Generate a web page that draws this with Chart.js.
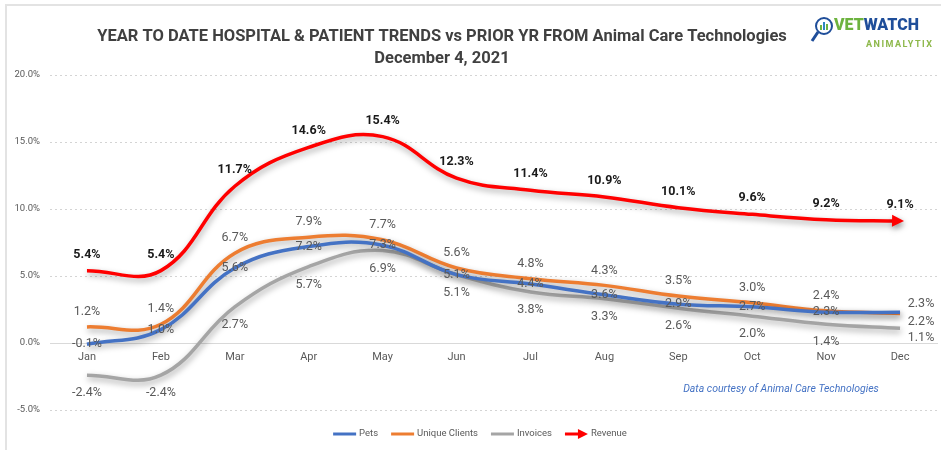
<!DOCTYPE html>
<html lang="en">
<head>
<meta charset="UTF-8">
<title>Year to date hospital & patient trends</title>
<script src="https://cdn.jsdelivr.net/npm/chart.js"></script>
<style>
  body { margin: 0; background: #fff; }
  #wrap { width: 941px; height: 450px; }
</style>
</head>
<body>
<div id="wrap"><canvas id="grafico"></canvas></div>

<script>
// months on the x axis
const meses = ["Jan", "Feb", "Mar", "Apr", "May", "Jun", "Jul", "Aug", "Sep", "Oct", "Nov", "Dec"];

// YTD change vs prior year, in %
const pets          = [-0.1, 1.0, 5.6, 7.2, 7.3, 5.1, 4.4, 3.6, 2.9, 2.7, 2.3, 2.3];
const uniqueClients = [1.2, 1.4, 6.7, 7.9, 7.7, 5.6, 4.8, 4.3, 3.5, 3.0, 2.4, 2.2];
const invoices      = [-2.4, -2.4, 2.7, 5.7, 6.9, 5.1, 3.8, 3.3, 2.6, 2.0, 1.4, 1.1];
const revenue       = [5.4, 5.4, 11.7, 14.6, 15.4, 12.3, 11.4, 10.9, 10.1, 9.6, 9.2, 9.1];

// y axis ticks
const yTicks = [-5, 0, 5, 10, 15, 20];

const cinza = '#595959';

// label style per dataset: vertical offset, weight, colour
const estiloRotulo = [
  { dy: 0,   bold: false, cor: cinza },      // Pets sits on the line
  { dy: -15, bold: false, cor: cinza },      // Unique Clients above
  { dy: 18,  bold: false, cor: cinza },      // Invoices below
  { dy: -16, bold: true,  cor: '#1a1a1a' }   // Revenue above, bold
];
// the December labels go to the right of the line end
const rotuloDez = [
  { dx: 21, dy: -8 },
  { dx: 21, dy: 8 },
  { dx: 21, dy: 10 },
  { dx: 0, dy: -16 }
];

// soft shadow under every line, like the Excel original, and arrow at the end of Revenue
const sombra = {
  id: 'sombra',
  beforeDatasetDraw(chart) {
    const ctx = chart.ctx;
    ctx.save();
    ctx.shadowColor = 'rgba(0,0,0,0.35)';
    ctx.shadowBlur = 6;
    ctx.shadowOffsetX = 1;
    ctx.shadowOffsetY = 3;
  },
  afterDatasetDraw(chart, args) {
    const ctx = chart.ctx;
    const ds = chart.data.datasets[args.index];
    if (ds.label === 'Revenue') {
      const pts = args.meta.data;
      const p = pts[pts.length - 1];
      const ang = Math.atan2(p.y - p.cp1y, p.x - p.cp1x);
      ctx.translate(p.x + 4, p.y);
      ctx.rotate(ang);
      ctx.fillStyle = ds.borderColor;
      ctx.beginPath();
      ctx.moveTo(0, 0);
      ctx.lineTo(-12, -6);
      ctx.lineTo(-12, 6);
      ctx.closePath();
      ctx.fill();
    }
    ctx.restore();
  }
};

// value labels
const rotulos = {
  id: 'rotulos',
  afterDatasetsDraw(chart) {
    const ctx = chart.ctx;
    ctx.save();
    ctx.textAlign = 'center';
    ctx.textBaseline = 'middle';
    chart.data.datasets.forEach((ds, i) => {
      const meta = chart.getDatasetMeta(i);
      const st = estiloRotulo[i];
      ctx.font = (st.bold ? 'bold ' : '') + '12.5px Roboto';
      ctx.fillStyle = st.cor;
      meta.data.forEach((pt, j) => {
        let dx = 0, dy = st.dy;
        if (j === meta.data.length - 1) { dx = rotuloDez[i].dx; dy = rotuloDez[i].dy; }
        ctx.fillText(ds.data[j].toFixed(1) + '%', pt.x + dx, pt.y + dy);
      });
    });
    ctx.restore();
  }
};

// title, logo, frame, note and legend
const enfeites = {
  id: 'enfeites',
  afterDraw(chart) {
    const ctx = chart.ctx;
    ctx.save();

    // light frame
    ctx.strokeStyle = '#e3e3e3';
    ctx.lineWidth = 2;
    ctx.beginPath();
    ctx.moveTo(6, 450);
    ctx.lineTo(6, 5);
    ctx.lineTo(941, 5);
    ctx.stroke();

    // title
    ctx.fillStyle = '#404040';
    ctx.textAlign = 'center';
    ctx.textBaseline = 'middle';
    ctx.font = 'bold 16.5px Roboto';
    ctx.fillText('YEAR TO DATE HOSPITAL & PATIENT TRENDS vs PRIOR YR FROM Animal Care Technologies', 442, 37, 691);
    ctx.fillText('December 4, 2021', 442, 59, 142);

    // logo: magnifier + VETWATCH / ANIMALYTIX
    ctx.strokeStyle = '#1f4e9a';
    ctx.lineWidth = 2;
    ctx.beginPath();
    ctx.arc(824, 26, 8, 0, Math.PI * 2);
    ctx.stroke();
    ctx.lineWidth = 3;
    ctx.beginPath();
    ctx.moveTo(818, 32);
    ctx.lineTo(812, 41);
    ctx.stroke();
    ctx.fillStyle = '#6db33f';
    ctx.fillRect(820, 25, 2, 5);
    ctx.fillStyle = '#2e86c1';
    ctx.fillRect(823, 22, 2, 8);
    ctx.fillStyle = '#6db33f';
    ctx.fillRect(826, 24, 2, 6);

    ctx.textAlign = 'left';
    ctx.font = '900 16px Roboto';
    ctx.fillStyle = '#6db33f';
    ctx.fillText('VET', 834, 26);
    const wVet = ctx.measureText('VET').width;
    ctx.fillStyle = '#1f4e9a';
    ctx.fillText('WATCH', 834 + wVet, 26, 101 - wVet);
    ctx.font = 'bold 9px Roboto';
    ctx.fillStyle = '#8db84a';
    ctx.letterSpacing = '1.5px';
    ctx.fillText('ANIMALYTIX', 866, 45, 72);
    ctx.letterSpacing = '0px';

    // note
    ctx.textAlign = 'center';
    ctx.font = 'italic 10.5px Roboto';
    ctx.fillStyle = '#4472c4';
    ctx.fillText('Data courtesy of Animal Care Technologies', 781, 389, 204);

    // legend
    ctx.font = '9.5px Roboto';
    const itens = chart.data.datasets.map(ds => ({ txt: ds.label, cor: ds.borderColor, seta: ds.label === 'Revenue' }));
    let total = 0;
    itens.forEach(it => { it.w = 23 + 3 + ctx.measureText(it.txt).width; total += it.w; });
    total += 13 * (itens.length - 1);
    let x = 480 - total / 2;
    const y = 434;
    ctx.textAlign = 'left';
    itens.forEach(it => {
      ctx.strokeStyle = it.cor;
      ctx.lineWidth = 3;
      ctx.beginPath();
      ctx.moveTo(x, y);
      ctx.lineTo(it.seta ? x + 15 : x + 23, y);
      ctx.stroke();
      if (it.seta) {
        ctx.fillStyle = it.cor;
        ctx.beginPath();
        ctx.moveTo(x + 23, y);
        ctx.lineTo(x + 13, y - 5);
        ctx.lineTo(x + 13, y + 5);
        ctx.closePath();
        ctx.fill();
      }
      ctx.fillStyle = cinza;
      ctx.fillText(it.txt, x + 26, y);
      x += it.w + 13;
    });

    ctx.restore();
  }
};

const ctx = document.getElementById('grafico');

const serie = (label, data, cor) => ({
  label: label,
  data: data,
  borderColor: cor,
  backgroundColor: cor,
  borderWidth: 3.5,
  pointRadius: 0,
  pointHoverRadius: 0,
  tension: 0.4,
  fill: false
});

const grafico = new Chart(ctx, {
  type: 'line',
  data: {
    labels: meses,
    datasets: [
      serie('Pets', pets, '#4472c4'),
      serie('Unique Clients', uniqueClients, '#ed7d31'),
      serie('Invoices', invoices, '#a5a5a5'),
      serie('Revenue', revenue, '#ff0000')
    ]
  },
  options: {
    responsive: true,
    maintainAspectRatio: false,
    animation: false,
    layout: { padding: { top: 75, left: 6, right: 4, bottom: 40 } },
    plugins: {
      legend: { display: false },
      tooltip: { enabled: false }
    },
    scales: {
      x: {
        type: 'category',
        position: { y: 0 },
        offset: true,
        grid: { display: false, drawTicks: false },
        border: { display: true, color: '#d9d9d9', width: 1 },
        ticks: { color: cinza, font: { family: 'Roboto', size: 11 }, padding: 8 }
      },
      y: {
        min: yTicks[0],
        max: yTicks[yTicks.length - 1],
        afterBuildTicks: s => { s.ticks = yTicks.map(v => ({ value: v })); },
        afterFit: s => { s.width = 44; },
        grid: {
          color: c => (c.tick && c.tick.value === 0) ? 'rgba(0,0,0,0)' : '#d4d4d4',
          drawTicks: false
        },
        border: { display: false, dash: [2, 3] },
        ticks: {
          color: cinza,
          font: { family: 'Roboto', size: 9.5 },
          padding: 10,
          callback: v => v.toFixed(1) + '%'
        }
      }
    }
  },
  plugins: [sombra, rotulos, enfeites]
});
</script>
</body>
</html>
